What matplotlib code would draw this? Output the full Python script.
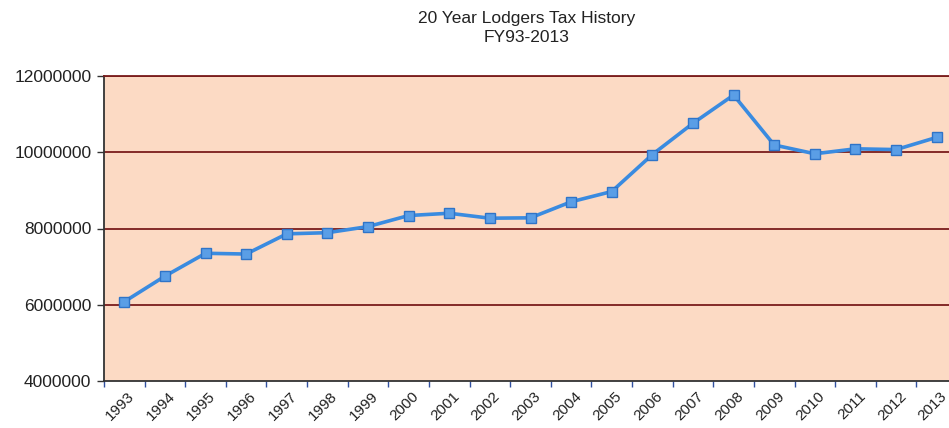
import matplotlib
matplotlib.use("Agg")
import matplotlib.pyplot as plt
from matplotlib.ticker import FixedLocator
import matplotlib.transforms as mtransforms

years = ["1993", "1994", "1995", "1996", "1997", "1998", "1999", "2000", "2001", "2002",
         "2003", "2004", "2005", "2006", "2007", "2008", "2009", "2010", "2011", "2012", "2013"]
revenue = [6080000, 6750000, 7350000, 7330000, 7860000, 7890000, 8050000, 8340000, 8400000, 8270000,
           8280000, 8700000, 8970000, 9940000, 10760000, 11500000, 10190000, 9960000, 10090000, 10070000, 10390000]
y_ticks = [4000000, 6000000, 8000000, 10000000, 12000000]
title_lines = ["20 Year Lodgers Tax History", "FY93-2013"]

plt.rcParams['font.family'] = ['Liberation Sans', 'DejaVu Sans']

fig = plt.figure(figsize=(9.49, 4.28), dpi=100)
ax = fig.add_axes([104/949, 1-381/428, 853/949, (381-76)/428])
ax.set_facecolor('#fcdac4')

x = list(range(len(years)))
ax.set_xlim(-0.5, len(years) - 0.5)
ax.set_ylim(y_ticks[0], y_ticks[-1])

for v in y_ticks[1:]:
    ax.axhline(v, color='#7a1c1c', lw=1.3, zorder=1)

ax.plot(x, revenue, color='#3a8be0', lw=2.6, marker='s', markersize=6.5,
        markerfacecolor='#5a9ee6', markeredgecolor='#2f74c8', markeredgewidth=1, zorder=3)

ax.set_yticks(y_ticks)
ax.set_yticklabels([str(v) for v in y_ticks], fontsize=12.5, color='#222222')
ax.tick_params(axis='y', direction='out', length=5, width=1, color='#333333', pad=4)

ax.set_xticks(x)
ax.set_xticklabels(years, rotation=45, ha='right', rotation_mode='anchor', fontsize=11, color='#222222')
ax.tick_params(axis='x', which='major', length=0, pad=6)
offset = mtransforms.ScaledTranslation(3/100, 0, fig.dpi_scale_trans)
for lab in ax.get_xticklabels():
    lab.set_transform(lab.get_transform() + offset)
ax.xaxis.set_minor_locator(FixedLocator([i - 0.5 for i in range(len(years) + 1)]))
ax.tick_params(axis='x', which='minor', direction='out', length=4, width=1, color='#3050a0')

for s in ['left', 'bottom']:
    ax.spines[s].set_color('#333333')
    ax.spines[s].set_linewidth(1.3)
ax.spines['top'].set_color('#7a1c1c')
ax.spines['top'].set_linewidth(1.3)
ax.spines['right'].set_visible(False)

fig.text(527/949, 1-18/428, title_lines[0], ha='center', va='center', fontsize=12.5, color='#222222')
fig.text(527/949, 1-38/428, title_lines[1], ha='center', va='center', fontsize=12.5, color='#222222')

fig.savefig('out.png', dpi=100)
